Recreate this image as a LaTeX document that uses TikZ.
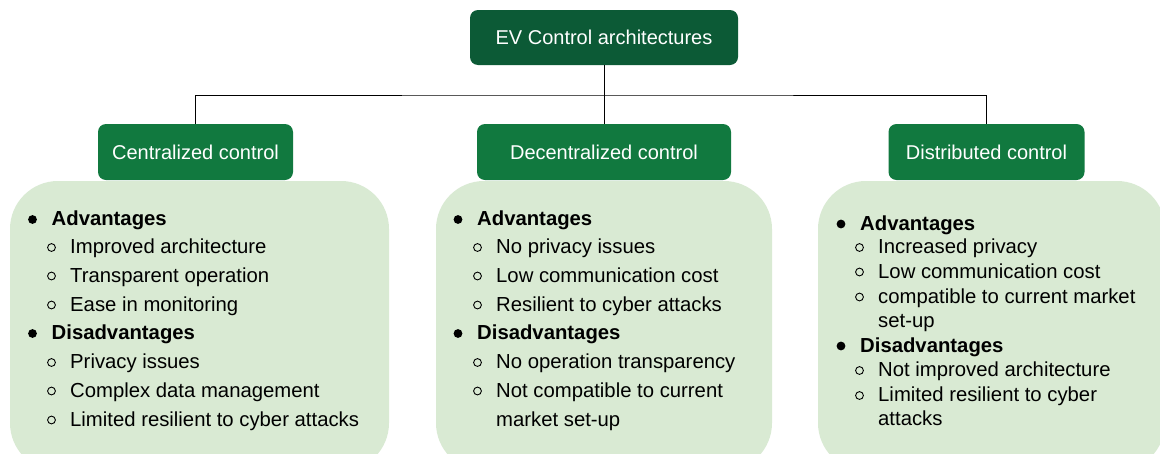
\documentclass[tikz,border=0pt]{standalone}
\usepackage{fontspec}
\setmainfont{Liberation Sans}
\definecolor{topgreen}{HTML}{0C5A36}
\definecolor{subgreen}{HTML}{11793F}
\definecolor{boxgreen}{HTML}{D9EAD3}
\newcommand\itemfont{\fontsize{20.3}{24}\selectfont}
\newcommand\advhead[4]{%
  \fill (#2-19,#3-6) circle (4.4);
  \node[itemtxt,font=\itemfont\bfseries] (#1) at (#2,#3) {#4};}
\newcommand\subitm[4]{%
  \draw[line width=0.9pt] (#2-18.5,#3-6) circle (3.9);
  \node[itemtxt] (#1) at (#2,#3) {#4};}
\newcommand\contitm[4]{%
  \node[itemtxt] (#1) at (#2,#3) {#4};}
\begin{document}
\begin{tikzpicture}[x=1pt,y=-1pt,
  titlebox/.style={rectangle,rounded corners=8pt,inner sep=0pt,text=white,
    font=\fontsize{20}{24}\selectfont,minimum height=56pt},
  listbox/.style={rectangle,rounded corners=48pt,fill=boxgreen,inner sep=0pt},
  itemtxt/.style={anchor=base west,inner sep=0pt,font=\itemfont,text=black},
  conn/.style={draw=black,line width=0.9pt}]
\useasboundingbox (0,0) rectangle (1160,453);
\clip (0,0) rectangle (1160,453);
\fill[white] (0,0) rectangle (1160,453);
% list boxes
\node[listbox,minimum width=379pt,minimum height=290pt] (lbox) at (199.5,326) {};
\node[listbox,minimum width=336pt,minimum height=290pt] (mbox) at (604,326) {};
\node[listbox,minimum width=347pt,minimum height=290pt] (rbox) at (991.5,326) {};
% title nodes
\node[titlebox,fill=topgreen,minimum width=268pt,minimum height=55pt] (top) at (604,37.5) {EV Control architectures};
\node[titlebox,fill=subgreen,minimum width=195pt] (cen) at (195.5,152) {Centralized control};
\node[titlebox,fill=subgreen,minimum width=254pt] (dec) at (604,152) {Decentralized control};
\node[titlebox,fill=subgreen,minimum width=196pt] (dis) at (986.5,152) {Distributed control};
% connectors
\coordinate (bus) at (604,95);
\draw[conn] (top.south) -- (bus);
\draw[conn] (cen.north) |- (bus) -| (dis.north);
\draw[conn] (bus) -- (dec.north);
% left list
\advhead{l1}{51.5}{225.5}{Advantages}
\subitm{l2}{70}{253.5}{Improved architecture}
\subitm{l3}{70}{282}{Transparent operation}
\subitm{l4}{70}{311}{Ease in monitoring}
\advhead{l5}{51.5}{339.5}{Disadvantages}
\subitm{l6}{70}{368.5}{Privacy issues}
\subitm{l7}{70}{397}{Complex data management}
\subitm{l8}{70}{426}{Limited resilient to cyber attacks}
% middle list
\advhead{m1}{477}{225.5}{Advantages}
\subitm{m2}{496}{253.5}{No privacy issues}
\subitm{m3}{496}{282}{Low communication cost}
\subitm{m4}{496}{311}{Resilient to cyber attacks}
\advhead{m5}{477}{339.5}{Disadvantages}
\subitm{m6}{496}{368.5}{No operation transparency}
\subitm{m7}{496}{397}{Not compatible to current}
\contitm{m8}{496}{426}{market set-up}
% right list
\advhead{r1}{860}{230}{Advantages}
\subitm{r2}{878}{253.5}{Increased privacy}
\subitm{r3}{878}{278}{Low communication cost}
\subitm{r4}{878}{303}{compatible to current market}
\contitm{r5}{878}{327}{set-up}
\advhead{r6}{860}{352}{Disadvantages}
\subitm{r7}{878}{376.5}{Not improved architecture}
\subitm{r8}{878}{401.5}{Limited resilient to cyber}
\contitm{r9}{878}{425.5}{attacks}
\end{tikzpicture}
\end{document}
